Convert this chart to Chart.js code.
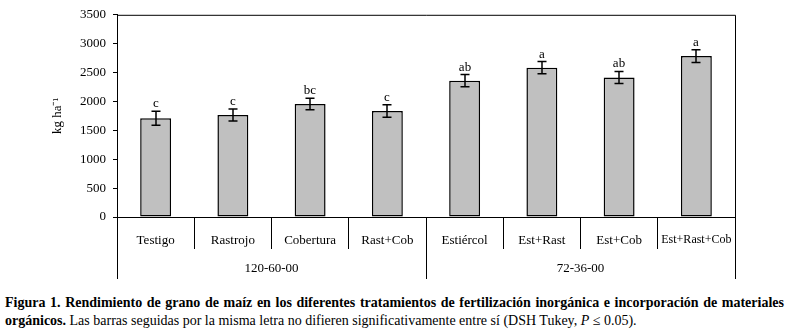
<!DOCTYPE html>
<html>
<head>
<meta charset="utf-8">
<script src="https://cdn.jsdelivr.net/npm/chart.js@4.4.0/dist/chart.umd.min.js"></script>
<style>
    body { margin: 0; background: #fff; width: 787px; height: 335px; overflow: hidden; position: relative; font-family: "Liberation Serif", "Times New Roman", serif; color: #000; }
    #wrap { position: absolute; left: 0; top: 0; width: 787px; height: 285px; }
    .cap { position: absolute; left: 5px; width: 779px; font-size: 14px; line-height: 16px; white-space: nowrap; }
    #cap1 { top: 295px; font-weight: bold; text-align: justify; text-align-last: justify; }
    #cap2 { top: 313px; }
</style>
</head>
<body>
<div id="wrap"><canvas id="barChart"></canvas></div>
<div class="cap" id="cap1">Figura 1. Rendimiento de grano de maíz en los diferentes tratamientos de fertilización inorgánica e incorporación de materiales</div>
<div class="cap" id="cap2"><b>orgánicos.</b> Las barras seguidas por la misma letra no difieren significativamente entre sí (DSH Tukey, <i>P</i> ≤ 0.05).</div>
<script>
var categories = ['Testigo', 'Rastrojo', 'Cobertura', 'Rast+Cob', 'Estiércol', 'Est+Rast', 'Est+Cob', 'Est+Rast+Cob'];
var yields = [1710, 1765, 1955, 1835, 2360, 2585, 2415, 2785];
var errors = [120, 105, 100, 110, 105, 105, 105, 110];
var letters = ['c', 'c', 'bc', 'c', 'ab', 'a', 'ab', 'a'];
var groups = ['120-60-00', '72-36-00'];
var groupSizes = [4, 4];
var yMin = 0, yMax = 3500, yStep = 500;

var serif = '"Liberation Serif", "Times New Roman", serif';

// error bars, letters, frame and the second row of x labels
var extras = {
    id: 'extras',
    afterDatasetsDraw: function(chart) {
        var ctx = chart.ctx;
        var xs = chart.scales.x, ys = chart.scales.y, a = chart.chartArea;
        ctx.save();
        ctx.strokeStyle = '#000';
        ctx.fillStyle = '#000';

        // top and right side of the box
        ctx.lineWidth = 1;
        ctx.beginPath();
        ctx.moveTo(a.left, a.top + 0.5);
        ctx.lineTo(a.right + 0.5, a.top + 0.5);
        ctx.lineTo(a.right + 0.5, a.bottom);
        ctx.stroke();

        var meta = chart.getDatasetMeta(0);
        ctx.lineWidth = 1.5;
        ctx.font = '13px ' + serif;
        ctx.textAlign = 'center';
        ctx.textBaseline = 'alphabetic';
        meta.data.forEach(function(bar, i) {
            var cx = Math.round(bar.x);
            var top = ys.getPixelForValue(yields[i] + errors[i]);
            var bot = ys.getPixelForValue(yields[i] - errors[i]);
            ctx.beginPath();
            ctx.moveTo(cx, top); ctx.lineTo(cx, bot);
            ctx.moveTo(cx - 4.5, top); ctx.lineTo(cx + 4.5, top);
            ctx.moveTo(cx - 4.5, bot); ctx.lineTo(cx + 4.5, bot);
            ctx.stroke();
            ctx.fillText(letters[i], cx, top - 4);
        });

        // group separators and labels
        ctx.lineWidth = 1;
        var start = 0;
        var edges = [0];
        groupSizes.forEach(function(n) { start += n; edges.push(start); });
        edges.forEach(function(e) {
            var px = Math.round(xs.getPixelForValue(e - 0.5)) + 0.5;
            ctx.beginPath();
            ctx.moveTo(px, a.bottom);
            ctx.lineTo(px, a.bottom + 62);
            ctx.stroke();
        });
        ctx.textBaseline = 'middle';
        groups.forEach(function(g, k) {
            var mid = (edges[k] + edges[k + 1] - 1) / 2;
            ctx.fillText(g, xs.getPixelForValue(mid), a.bottom + 52);
        });
        ctx.restore();
    }
};

window.onload = function() {
    var ctx = document.getElementById('barChart').getContext('2d');
    var barChart = new Chart(ctx, {
        type: 'bar',
        data: {
            labels: categories,
            datasets: [{
                data: yields,
                backgroundColor: '#c0c0c0',
                borderColor: '#000',
                borderWidth: 1.5,
                borderSkipped: false,
                barPercentage: 0.4,
                categoryPercentage: 1
            }]
        },
        options: {
            responsive: true,
            maintainAspectRatio: false,
            animation: false,
            layout: { padding: { top: 11, right: 52, left: 0, bottom: 0 } },
            plugins: {
                legend: { display: false },
                tooltip: { enabled: false }
            },
            scales: {
                x: {
                    afterFit: function(scale) { scale.height = 68; },
                    grid: { offset: true, drawOnChartArea: false, tickLength: 32, color: '#000', lineWidth: 1 },
                    border: { color: '#000', width: 1 },
                    ticks: {
                        color: '#000',
                        padding: -16,
                        maxRotation: 0,
                        minRotation: 0,
                        autoSkip: false,
                        font: function(c) {
                            return { family: serif, size: c.index === 7 ? 12 : 13 };
                        }
                    }
                },
                y: {
                    min: yMin,
                    max: yMax,
                    afterFit: function(scale) { scale.width = 117; },
                    grid: { drawOnChartArea: false, tickLength: 4, color: '#000' },
                    border: { color: '#000', width: 1 },
                    ticks: {
                        stepSize: yStep,
                        color: '#000',
                        padding: 7,
                        font: { family: serif, size: 13 },
                        callback: function(v) { return String(v); }
                    },
                    title: {
                        display: true,
                        text: 'kg ha⁻¹',
                        color: '#000',
                        padding: { top: 50, bottom: 0 },
                        font: { family: serif, size: 13 }
                    }
                }
            }
        },
        plugins: [extras]
    });
};
</script>
</body>
</html>
